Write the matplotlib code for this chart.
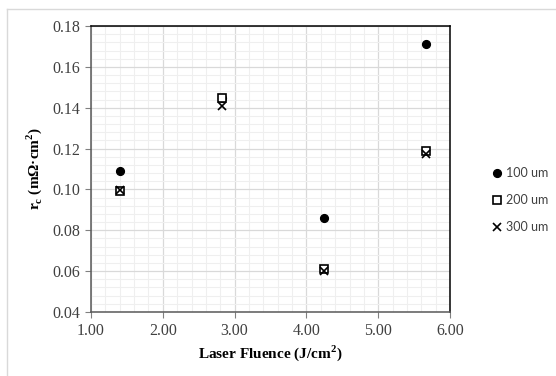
import matplotlib.pyplot as plt
from matplotlib.lines import Line2D
from matplotlib.ticker import MultipleLocator, FormatStrFormatter

plt.rcParams["mathtext.fontset"] = "custom"
plt.rcParams["mathtext.rm"] = "Liberation Serif"
plt.rcParams["mathtext.bf"] = "Liberation Serif:bold"

# fluence values (J/cm2) and contact resistivity for each spacing
fluence = [1.41, 2.83, 4.24, 5.66]
rc_100 = [0.109, 0.145, 0.086, 0.171]
rc_200 = [0.099, 0.145, 0.061, 0.119]
rc_300 = [0.0995, 0.141, 0.060, 0.1175]
labels = ["100 um", "200 um", "300 um"]

fig = plt.figure(figsize=(5.56, 3.76), dpi=100)
# chart area border: only the left and top edges are inside the picture
bx, by = 7 / 556, 1 - 9 / 376
fig.lines.append(Line2D([bx, bx], [0, by], transform=fig.transFigure, color="#d9d9d9", lw=1))
fig.lines.append(Line2D([bx, 1], [by, by], transform=fig.transFigure, color="#d9d9d9", lw=1))
ax = fig.add_axes([0.1637, 0.1702, 0.6457, 0.7606])

ax.plot(fluence, rc_100, "o", color="black", markersize=5.6, label=labels[0], zorder=3)
ax.plot(fluence, rc_200, "s", markerfacecolor="white", markeredgecolor="black",
        markersize=5.4, markeredgewidth=1.2, label=labels[1], zorder=4)
ax.plot(fluence, rc_300, "x", color="black", markersize=5.8, markeredgewidth=1.2,
        label=labels[2], zorder=5)

ax.set_xlim(1, 6)
ax.set_ylim(0.04, 0.18)
ax.xaxis.set_major_locator(MultipleLocator(1))
ax.xaxis.set_minor_locator(MultipleLocator(0.2))
ax.yaxis.set_major_locator(MultipleLocator(0.02))
ax.yaxis.set_minor_locator(MultipleLocator(0.004))
ax.xaxis.set_major_formatter(FormatStrFormatter("%.2f"))
ax.yaxis.set_major_formatter(FormatStrFormatter("%.2f"))

ax.grid(True, which="major", color="#d9d9d9", lw=0.9)
ax.grid(True, which="minor", color="#efefef", lw=0.8)
ax.set_axisbelow(True)

ax.tick_params(which="major", direction="out", length=4, color="#808080",
               labelsize=11.5, pad=4)
ax.tick_params(which="minor", length=0)
for t in ax.get_xticklabels() + ax.get_yticklabels():
    t.set_family("Liberation Serif")
    t.set_color("#404040")

ax.spines["left"].set_color("#595959")
ax.spines["bottom"].set_color("#595959")
ax.spines["top"].set_color("black")
ax.spines["right"].set_color("black")
for s in ax.spines.values():
    s.set_linewidth(1.1)

ax.set_xlabel("Laser Fluence (J/cm$^\\mathbf{2}$)", family="Liberation Serif",
              fontweight="bold", fontsize=11, labelpad=3)
ax.set_ylabel("r$_\\mathbf{c}$ (m\u03a9\u00b7cm$^\\mathbf{2}$)", family="Liberation Serif",
              fontweight="bold", fontsize=11, labelpad=6)

leg = ax.legend(loc="center left", bbox_to_anchor=(1.089, 0.392), frameon=False,
                prop={"family": "Lato", "size": 9}, handlelength=0.6,
                handletextpad=0.4, labelspacing=1.2)
for t in leg.get_texts():
    t.set_color("#404040")

plt.savefig("out.png", dpi=100)
